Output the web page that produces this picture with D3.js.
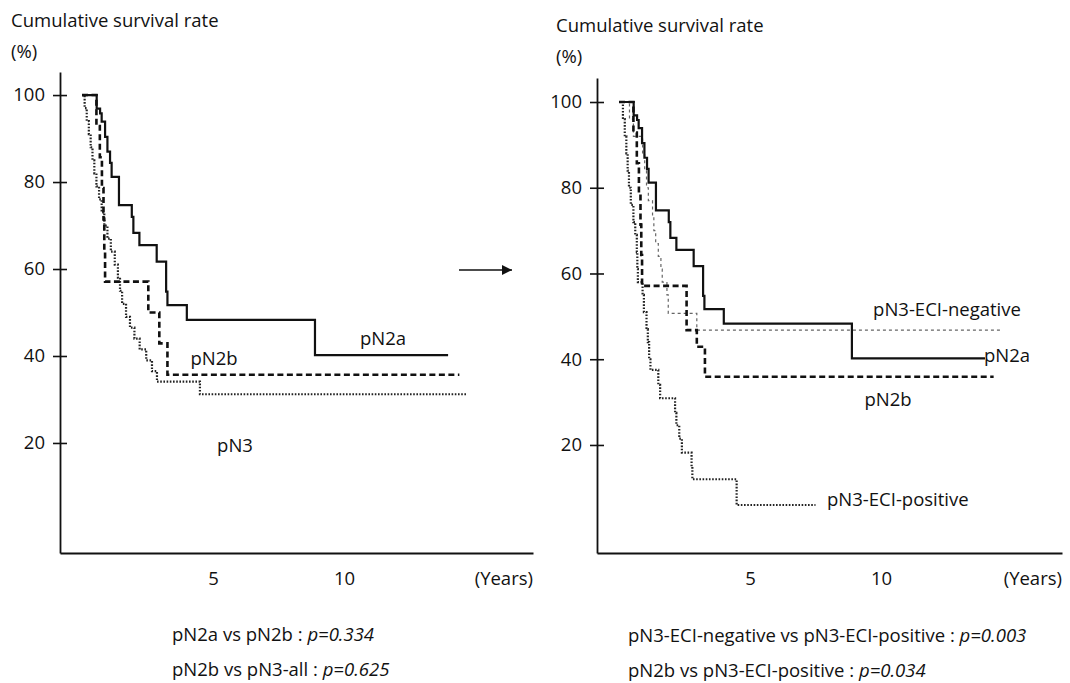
<!DOCTYPE html>
<html><head><meta charset="utf-8">
<script src="https://cdn.jsdelivr.net/npm/d3@7"></script>
<style>
body{margin:0;background:#fff}
svg text{font-family:"Open Sans",sans-serif;fill:#111}
</style></head><body>
<svg id="c" width="1070" height="683"></svg>
<script>
// ---------- data ----------
const yTicks = [20, 40, 60, 80, 100];
const xTicks = [5, 10];

// left panel
const leftN2aTimes = [0, 0.56, 0.69, 0.75, 0.88, 0.97, 1.07, 1.13, 1.41, 1.90, 1.96, 2.19, 2.85, 3.21, 3.26, 4.00, 8.89, 13.97];
const leftN2aSurv  = [100, 96.9, 95.8, 93.9, 90.4, 87.0, 84.4, 81.2, 74.7, 72.0, 68.3, 65.5, 61.7, 54.8, 51.7, 48.3, 40.2, 40.2];
const leftN2bTimes = [0, 0.55, 0.68, 0.76, 0.82, 0.85, 0.88, 2.53, 2.95, 3.26, 14.4];
const leftN2bSurv  = [100, 92.9, 85.7, 78.6, 71.4, 64.3, 57.1, 50.0, 42.9, 35.7, 35.7];
const leftN3Times  = [0, 0.1, 0.18, 0.26, 0.33, 0.4, 0.47, 0.55, 0.65, 0.75, 0.85, 0.97, 1.1, 1.25, 1.37, 1.45, 1.53, 1.68, 1.83, 2.0, 2.2, 2.45, 2.67, 2.86, 4.5, 14.7];
const leftN3Surv   = [100, 97, 94, 91, 88, 85, 82, 79, 76, 73, 70, 67, 64, 61, 58, 55, 52, 49, 46.5, 44, 41.5, 39, 36.5, 34.1, 31.2, 31.2];

// right panel
const rightN2aTimes = leftN2aTimes;
const rightN2aSurv  = leftN2aSurv;
const rightN2bTimes = [0, 0.55, 0.68, 0.76, 0.82, 0.85, 0.88, 2.58, 2.97, 3.28, 14.3];
const rightN2bSurv  = [100, 92.9, 85.7, 78.6, 71.4, 64.3, 57.1, 46.8, 42.9, 35.9, 35.9];
const eciNegTimes = [0, 0.4, 0.55, 0.9, 0.98, 1.05, 1.12, 1.28, 1.33, 1.4, 1.5, 1.6, 1.65, 1.83, 1.88, 2.97, 14.6];
const eciNegSurv  = [100, 96, 92, 88, 84, 80, 77, 73, 70, 67, 64, 61, 58, 55, 50.7, 46.8, 46.8];
const eciPosTimes = [0, 0.15, 0.22, 0.28, 0.33, 0.38, 0.45, 0.55, 0.62, 0.68, 0.7, 0.72, 0.9, 0.95, 1.05, 1.1, 1.15, 1.2, 1.5, 1.57, 2.14, 2.19, 2.3, 2.4, 2.77, 2.8, 4.49, 7.5];
const eciPosSurv  = [100, 96, 92, 88, 84, 80, 76, 72, 69, 65, 61, 58, 55, 51, 47, 44, 40, 37.5, 34, 30.9, 27.5, 24.6, 21.5, 18.2, 15, 12, 6, 6];

// ---------- styles ----------
const styles = {
  solid:  {width: 2.2, dash: null, color: "#111"},
  dashed: {width: 2.6, dash: "6,3.5", color: "#111"},
  dotted: {width: 2.2, dash: "1.6,1.6", color: "#222"},
  thin:   {width: 1.2, dash: "3,3", color: "#666"}
};

const svg = d3.select("#c");
const FS = 18.5;

function panel(cfg) {
  const g = svg.append("g");
  const x = d3.scaleLinear().domain(cfg.xDomain).range(cfg.xRange);
  const y = d3.scaleLinear().domain(cfg.yDomain).range(cfg.yRange);

  // titles
  g.append("text").attr("x", cfg.titleX).attr("y", cfg.titleY).attr("font-size", FS).text("Cumulative survival rate");
  g.append("text").attr("x", cfg.titleX).attr("y", cfg.titleY + 31).attr("font-size", FS).text("(%)");

  // y axis
  const ya = g.append("g").attr("transform", `translate(${cfg.xRange[0]},0)`)
    .call(d3.axisLeft(y).tickValues(yTicks).tickSize(7).tickSizeOuter(0).tickPadding(8));
  ya.selectAll(".tick line").attr("x1", 7).attr("stroke-width", 1.6).attr("stroke", "#111");
  ya.selectAll(".tick text").attr("font-size", FS).attr("font-family", "Open Sans").attr("fill", "#111");
  ya.select(".domain").attr("stroke-width", 1.8).attr("stroke", "#111");

  // x axis
  const xa = g.append("g").attr("transform", `translate(0,${cfg.yRange[0]})`)
    .call(d3.axisBottom(x).tickValues(xTicks).tickSize(0).tickSizeOuter(0).tickPadding(19));
  xa.selectAll(".tick text").attr("font-size", FS).attr("font-family", "Open Sans").attr("fill", "#111");
  xa.select(".domain").attr("stroke-width", 1.8).attr("stroke", "#111");
  g.append("text").attr("x", cfg.xRange[1]).attr("y", cfg.yRange[0] + 32)
    .attr("text-anchor", "end").attr("font-size", FS).text("(Years)");

  const line = d3.line().x(d => x(d[0])).y(d => y(d[1])).curve(d3.curveStepAfter);
  cfg.series.forEach(s => {
    const st = styles[s.style];
    g.append("path").datum(d3.zip(s.times, s.surv))
      .attr("d", line).attr("fill", "none")
      .attr("stroke", st.color).attr("stroke-width", st.width)
      .attr("stroke-dasharray", st.dash);
  });
  cfg.labels.forEach(l => {
    g.append("text").attr("x", l.x).attr("y", l.y).attr("font-size", FS)
      .attr("text-anchor", l.anchor || "middle").text(l.text);
  });
  cfg.notes.forEach((n, i) => {
    const t = g.append("text").attr("x", cfg.noteX).attr("y", cfg.noteY + i * 35).attr("font-size", FS);
    t.append("tspan").text(n[0]);
    t.append("tspan").attr("font-style", "italic").text(n[1]);
  });
}

panel({
  xDomain: [-0.84, 17.21], xRange: [60, 533],
  yDomain: [-5.3, 105.3], yRange: [553, 72],
  titleX: 11, titleY: 27,
  series: [
    {times: leftN3Times, surv: leftN3Surv, style: "dotted"},
    {times: leftN2bTimes, surv: leftN2bSurv, style: "dashed"},
    {times: leftN2aTimes, surv: leftN2aSurv, style: "solid"}
  ],
  labels: [
    {text: "pN2a", x: 383, y: 345},
    {text: "pN2b", x: 214, y: 365},
    {text: "pN3", x: 235, y: 452}
  ],
  noteX: 172, noteY: 641,
  notes: [["pN2a vs pN2b : ", "p=0.334"], ["pN2b vs pN3-all : ", "p=0.625"]]
});

panel({
  xDomain: [-0.84, 16.91], xRange: [597, 1062],
  yDomain: [-5.2, 105.6], yRange: [553, 78],
  titleX: 556, titleY: 32,
  series: [
    {times: eciPosTimes, surv: eciPosSurv, style: "dotted"},
    {times: eciNegTimes, surv: eciNegSurv, style: "thin"},
    {times: rightN2bTimes, surv: rightN2bSurv, style: "dashed"},
    {times: rightN2aTimes, surv: rightN2aSurv, style: "solid"}
  ],
  labels: [
    {text: "pN3-ECI-negative", x: 947, y: 316},
    {text: "pN2a", x: 984, y: 362, anchor: "start"},
    {text: "pN2b", x: 888, y: 406},
    {text: "pN3-ECI-positive", x: 827, y: 506, anchor: "start"}
  ],
  noteX: 628, noteY: 642,
  notes: [["pN3-ECI-negative vs pN3-ECI-positive : ", "p=0.003"], ["pN2b vs pN3-ECI-positive : ", "p=0.034"]]
});

// arrow between panels
svg.append("defs").append("marker").attr("id", "ah")
  .attr("viewBox", "0 0 10 10").attr("refX", 10).attr("refY", 5)
  .attr("markerWidth", 10).attr("markerHeight", 10).attr("markerUnits", "userSpaceOnUse")
  .attr("orient", "auto")
  .append("path").attr("d", "M0,0 L10,5 L0,10 Z").attr("fill", "#111");
svg.append("line").attr("x1", 459).attr("y1", 270).attr("x2", 512).attr("y2", 270)
  .attr("stroke", "#111").attr("stroke-width", 1.4).attr("marker-end", "url(#ah)");
</script>
</body></html>
